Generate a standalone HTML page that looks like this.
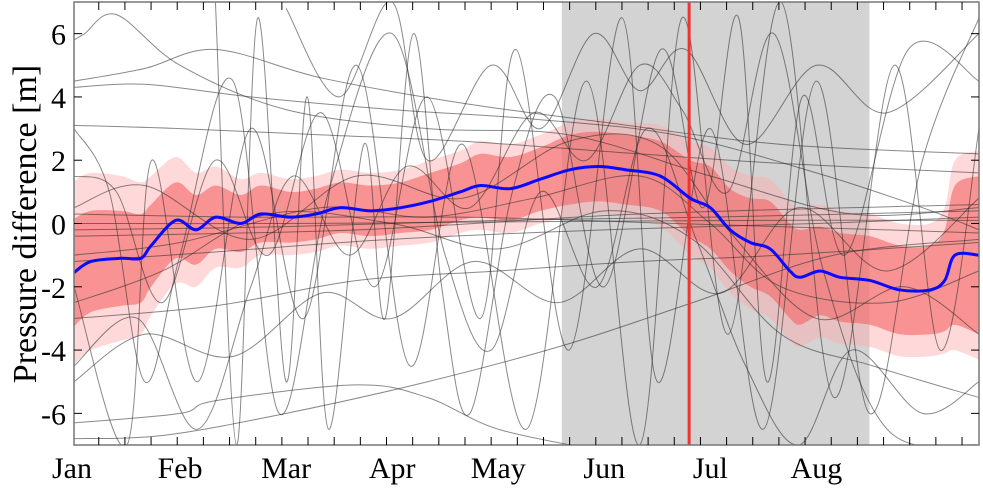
<!DOCTYPE html>
<html><head><meta charset="utf-8">
<style>
html,body{margin:0;padding:0;background:#fff;font-family:"Liberation Serif","Times New Roman","DejaVu Serif",serif;}
svg{display:block;}
</style></head>
<body>
<svg id="chart" width="983" height="492" viewBox="0 0 983 492" xmlns="http://www.w3.org/2000/svg">
<defs><clipPath id="clip"><rect x="74" y="2" width="905" height="443"/></clipPath></defs>
<g id="plot" clip-path="url(#clip)"></g>
<g id="axes"></g>
<text x="28" y="224" style="font-family:'Liberation Serif','Times New Roman','DejaVu Serif',serif" font-size="34" text-anchor="middle" transform="rotate(-90 28 224)" dominant-baseline="middle">Pressure difference [m]</text>
</svg>
<script>
// ---- data ----
const monthLabels=["Jan","Feb","Mar","Apr","May","Jun","Jul","Aug"];
const monthStarts=[0,30,60,90,120,150,180,210];
const yTicks=[-6,-4,-2,0,2,4,6];
const shadeRange=[138,225];
const eventDay=174;
const meanDays=[0,4.8,13.3,18.9,21.8,28.8,34.5,40.1,47.2,52.8,61.3,68.4,75.4,83.9,92.4,100.8,109.3,115,123.4,131.9,140.4,148.3,155.9,165.8,174.3,180,185.6,191.3,196.9,202.5,205.4,211,216.7,225.1,233.6,242.1,246.3,249.2,256];
const meanVals=[-1.55,-1.2,-1.1,-1.1,-0.7,0.1,-0.2,0.2,0.0,0.3,0.2,0.3,0.5,0.4,0.5,0.7,1.0,1.2,1.1,1.4,1.7,1.8,1.7,1.5,0.8,0.5,-0.2,-0.6,-0.8,-1.5,-1.7,-1.5,-1.7,-1.8,-2.1,-2.1,-1.8,-1.0,-1.0];
const innerHalf=[1.7,1.6,1.5,1.4,1.3,1.2,1.1,1.0,0.9,0.9,0.8,0.8,0.8,0.8,0.8,0.9,0.9,1.0,1.0,1.0,1.1,1.1,1.1,1.1,1.2,1.3,1.3,1.4,1.5,1.5,1.5,1.4,1.4,1.4,1.4,1.4,1.6,2.2,2.5];
const outerHalf=[2.9,2.8,2.6,2.4,2.2,2.0,1.8,1.6,1.4,1.3,1.2,1.2,1.2,1.2,1.2,1.3,1.3,1.4,1.4,1.4,1.5,1.5,1.5,1.6,1.8,1.9,2.0,2.1,2.2,2.2,2.2,2.1,2.1,2.1,2.1,2.1,2.3,3.0,3.3];
const grayLines=[
 [[0,5.8],[3,6.0],[12,6.6],[30,5.0],[60,3.6],[100,3.0],[140,2.8],[180,1.5],[220,0.3],[256,0.5]],
 [[0,4.5],[20,4.9],[40,5.5],[70,4.6],[110,3.8],[150,3.2],[200,2.5],[256,2.2]],
 [[0,4.3],[20,4.4],[50,4.0],[90,3.6],[130,3.3],[170,2.8],[210,1.6],[240,0.5],[256,-0.2]],
 [[0,3.1],[30,3.0],[70,2.8],[110,2.6],[160,2.2],[200,1.9],[256,1.6]],
 [[0,-0.2],[60,-0.1],[120,0.1],[180,0.2],[256,0.4]],
 [[0,0.0],[60,0.0],[120,0.05],[200,0.1],[256,0.1]],
 [[0,-0.4],[80,-0.2],[160,0.3],[256,0.6]],
 [[0,-6.3],[30,-6.0],[40,-5.6],[80,-5.1],[100,-5.5],[120,-6.5],[150,-7.2]],
 [[0,-6.8],[25,-6.7],[60,-6.0],[100,-5.0],[140,-3.8],[175,-2.5],[215,-1.0],[256,-0.5]],
 [[0,-3.0],[40,-2.6],[80,-1.8],[120,-1.5],[160,-1.2],[200,-1.0],[256,-0.6]],
 [[0,1.5],[12,1.0],[25,-2.5],[40,2.0],[55,-1.0],[70,3.5],[85,-2.0],[100,4.0],[115,-3.0],[125,5.5],[140,-4.0],[155,6.5],[165,-5.0],[180,3.0],[195,-6.5],[210,4.5],[225,-6.0],[240,2.0],[256,6.5]],
 [[0,-2.0],[15,-7],[22,2.0],[35,-5.0],[50,3.0],[65,-3.0],[80,5.0],[95,-4.5],[110,2.5],[128,-6.5],[145,4.5],[160,-7],[172,6.5],[185,-3.5],[200,7],[215,-5.5],[232,5.0],[245,-4.0],[256,3.0]],
 [[0,3.0],[10,1.0],[20,-5.0],[30,-1.0],[45,4.5],[58,-6.0],[72,1.0],[90,6.0],[105,-1.0],[118,-4.0],[132,1.0],[148,-2.0],[162,3.0],[176,-0.5],[190,-4.5],[205,-7],[220,-4.0],[240,-6.0],[256,-5.0]],
 [[0,-4.5],[18,-3.0],[35,-6.5],[50,-2.0],[62,1.5],[78,-1.0],[94,1.8],[112,0.5],[130,3.5],[145,2.0],[160,5.0],[172,3.6],[185,1.0],[198,6.0],[212,-1.5],[230,-6.5],[256,-7]],
 [[40,7],[46,-7],[52,6.5],[60,-5],[66,4],[72,-6.5],[82,2.5],[88,-3],[96,6],[104,-2],[112,-6],[124,1],[136,4],[150,-2],[166,5.5],[178,0.5],[188,6.5],[196,-5],[206,4],[218,-1],[236,5.5],[256,4.5]],
 [[0,0.5],[20,1.2],[50,-0.5],[80,1.5],[110,0.8],[140,2.6],[165,2.5],[185,-0.2],[210,-3.0],[235,-2.0],[256,-3.5]],
 [[0,-1.0],[30,-0.6],[70,0.5],[100,0.2],[130,0.8],[160,1.5],[180,0.0],[200,-2.0],[230,-2.5],[256,-1.5]],
 [[0,-2.5],[25,-1.5],[55,0.3],[90,0.0],[120,-0.8],[150,0.4],[175,-0.5],[200,-3.5],[226,-4.5],[256,-5.5]],
 [[60,6.8],[75,4.0],[90,7],[100,2.0],[118,5.0],[132,3.0],[147,6.0],[160,4.2],[173,5.5],[190,2.5],[210,5.0],[230,3.5],[256,6.0]],
 [[0,-5.0],[20,-3.5],[45,-4.2],[70,-2.2],[90,-3.0],[113,-1.2],[137,-2.5],[160,-0.8],[183,-2.2],[205,0.5],[230,-1.5],[256,0.8]],
 [[0,-1.2],[40,-0.9],[90,-0.5],[150,-0.2],[210,0.0],[256,0.2]],
 [[0,0.3],[50,0.2],[110,0.2],[170,0.0],[230,-0.2],[256,-0.3]]
];
// ---- scales ----
const X0=74,X1=979,Y0=2,Y1=445,DMAX=256;
const FONT="font-family:'Liberation Serif','Times New Roman','DejaVu Serif',serif";
const sx=d=>X0+(d/DMAX)*(X1-X0);
const sy=v=>Y1-(v+7)/14*(Y1-Y0);
const NS="http://www.w3.org/2000/svg";
const plot=document.getElementById('plot'),axes=document.getElementById('axes');
function mk(t,a,p){const e=document.createElementNS(NS,t);for(const k in a)e.setAttribute(k,a[k]);p.appendChild(e);return e;}
function smoothPath(pts){
 let d=`M${pts[0][0]},${pts[0][1]}`;
 for(let i=0;i<pts.length-1;i++){
  const p0=pts[Math.max(0,i-1)],p1=pts[i],p2=pts[i+1],p3=pts[Math.min(pts.length-1,i+2)];
  const c1=[p1[0]+(p2[0]-p0[0])/6,p1[1]+(p2[1]-p0[1])/6],c2=[p2[0]-(p3[0]-p1[0])/6,p2[1]-(p3[1]-p1[1])/6];
  d+=` C${c1[0]},${c1[1]} ${c2[0]},${c2[1]} ${p2[0]},${p2[1]}`;
 }return d;}
// shade
const sh=mk('rect',{x:sx(shadeRange[0]),y:Y0,width:sx(shadeRange[1])-sx(shadeRange[0]),height:Y1-Y0,fill:'#d3d3d3'},plot);


// bands
function band(half,color,name){
 const up=meanDays.map((d,i)=>[sx(d),sy(meanVals[i]+half[i])]);
 const lo=meanDays.map((d,i)=>[sx(d),sy(meanVals[i]-half[i])]).reverse();
 const d=smoothPath(up)+' L'+smoothPath(lo).slice(1)+' Z';
 const p=mk('path',{d:d,fill:color},plot);
 
 
}
band(outerHalf,'rgba(255,170,170,0.45)','outer-band');
band(innerHalf,'rgba(245,100,100,0.6)','inner-band');
// gray lines
grayLines.forEach((ln,i)=>{
 const p=mk('path',{d:smoothPath(ln.map(q=>[sx(q[0]),sy(q[1])])),fill:'none',stroke:'rgba(40,40,40,0.55)','stroke-width':1},plot);
 
 
});
// event line
const ev=mk('line',{x1:sx(eventDay),x2:sx(eventDay),y1:Y0,y2:Y1,stroke:'#ee3333','stroke-width':3},plot);


// mean
const mp=mk('path',{d:smoothPath(meanDays.map((d,i)=>[sx(d),sy(meanVals[i])])),fill:'none',stroke:'#0a0aff','stroke-width':3},plot);


// frame
const fr=mk('rect',{x:X0,y:Y0,width:X1-X0,height:Y1-Y0,fill:'none',stroke:'#777','stroke-width':1.5},axes);


// x ticks weekly
for(let d=7;d<DMAX;d+=7.4){
 mk('line',{x1:sx(d),x2:sx(d),y1:Y1,y2:Y1-8,stroke:'#000'},axes);
 mk('line',{x1:sx(d),x2:sx(d),y1:Y0,y2:Y0+8,stroke:'#000'},axes);
}
monthLabels.forEach((m,i)=>{
 const t=mk('text',{x:sx(monthStarts[i])+(i==0?-22:0),y:478,'font-size':30,style:FONT,'text-anchor':i==0?'start':'middle'},axes);
 t.textContent=m;
 
 
});
yTicks.forEach(v=>{
 mk('line',{x1:X0,x2:X0+8,y1:sy(v),y2:sy(v),stroke:'#000'},axes);
 mk('line',{x1:X1,x2:X1-8,y1:sy(v),y2:sy(v),stroke:'#000'},axes);
 const t=mk('text',{x:66,y:sy(v)+11,'font-size':30,style:FONT,'text-anchor':'end'},axes);
 t.textContent=v;
 
 
});
</script>
</body></html>
